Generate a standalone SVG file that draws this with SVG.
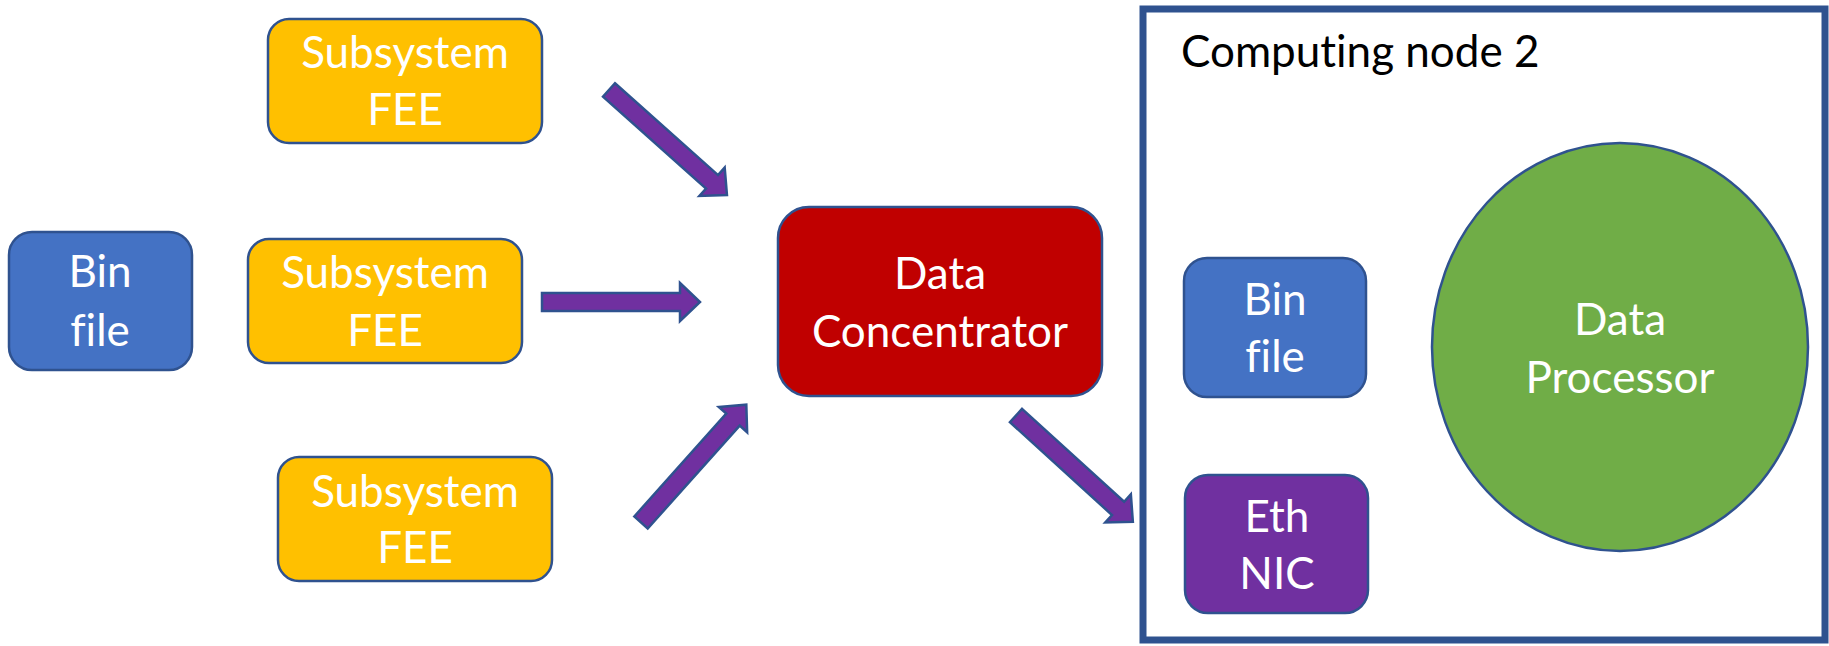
<svg xmlns="http://www.w3.org/2000/svg" width="1829" height="646" viewBox="0 0 1829 646">
  <style>
    .box { stroke: #2F528F; stroke-width: 2.5; }
    .fee { fill: #FFC000; }
    .bin { fill: #4472C4; }
    .conc { fill: #C00000; }
    .nic { fill: #7030A0; }
    .proc { fill: #70AD47; }
    .lbl { font-family: Lato, "Open Sans", "Liberation Sans", sans-serif; font-size: 44px; fill: #FFFFFF; text-anchor: middle; font-variant-ligatures: none; }
    .title { font-family: Lato, "Open Sans", "Liberation Sans", sans-serif; font-size: 44px; fill: #000000; font-variant-ligatures: none; }
    .arrow { fill: #7030A0; stroke: #2F528F; stroke-width: 2.5; stroke-linejoin: miter; }
  </style>
  <defs>
    <!-- block arrow pointing along +x, tail at origin, length 158 -->
    <path id="blockArrow" d="M0,-9 H138 V-19 L158,0 L138,19 V9 H0 Z"/>
  </defs>
  <rect width="1829" height="646" fill="#FFFFFF"/>

  <g id="computing-node-2">
    <rect x="1143" y="9" width="682" height="631" fill="#FFFFFF" stroke="#2F528F" stroke-width="7"/>
    <text class="title" x="1181" y="67">Computing node 2</text>
  </g>

  <g id="subsystem-fee-1">
    <rect class="box fee" x="268" y="19" width="274" height="124" rx="21"/>
    <text class="lbl" x="405" y="68">Subsystem</text>
    <text class="lbl" x="405" y="125">FEE</text>
  </g>

  <g id="subsystem-fee-2">
    <rect class="box fee" x="248" y="239" width="274" height="124" rx="21"/>
    <text class="lbl" x="385" y="288">Subsystem</text>
    <text class="lbl" x="385" y="346">FEE</text>
  </g>

  <g id="subsystem-fee-3">
    <rect class="box fee" x="278" y="457" width="274" height="124" rx="21"/>
    <text class="lbl" x="415" y="507">Subsystem</text>
    <text class="lbl" x="415" y="563">FEE</text>
  </g>

  <g id="bin-file-source">
    <rect class="box bin" x="9" y="232" width="183" height="138" rx="23"/>
    <text class="lbl" x="100" y="287">Bin</text>
    <text class="lbl" x="100" y="346">file</text>
  </g>

  <g id="data-concentrator">
    <rect class="box conc" x="778" y="207" width="324" height="189" rx="31"/>
    <text class="lbl" x="940" y="289">Data</text>
    <text class="lbl" x="940" y="347">Concentrator</text>
  </g>

  <g id="bin-file-node">
    <rect class="box bin" x="1184" y="258" width="182" height="139" rx="23"/>
    <text class="lbl" x="1275" y="315">Bin</text>
    <text class="lbl" x="1275" y="372">file</text>
  </g>

  <g id="eth-nic">
    <rect class="box nic" x="1185" y="475" width="183" height="138" rx="23"/>
    <text class="lbl" x="1277" y="532">Eth</text>
    <text class="lbl" x="1277" y="589">NIC</text>
  </g>

  <g id="data-processor">
    <ellipse class="box proc" cx="1620" cy="347" rx="188" ry="204"/>
    <text class="lbl" x="1620" y="335">Data</text>
    <text class="lbl" x="1620" y="393">Processor</text>
  </g>

  <g id="connectors">
    <use href="#blockArrow" class="arrow" transform="translate(609,90) rotate(41.7)"/>
    <use href="#blockArrow" class="arrow" transform="translate(542,302)"/>
    <use href="#blockArrow" class="arrow" transform="translate(641,522.5) rotate(-48.2)"/>
    <use href="#blockArrow" class="arrow" transform="translate(1016,415.5) rotate(42.3)"/>
  </g>
</svg>
